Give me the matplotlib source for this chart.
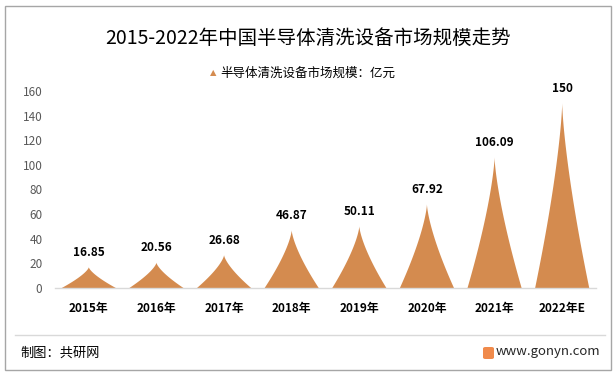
import numpy as np
import matplotlib
matplotlib.use("Agg")
import matplotlib.pyplot as plt
from matplotlib.path import Path
from matplotlib.patches import PathPatch, Rectangle, FancyBboxPatch
from matplotlib.lines import Line2D

plt.rcParams['font.family'] = ['Noto Sans CJK SC', 'DejaVu Sans']

title = "2015-2022年中国半导体清洗设备市场规模走势"
legend_label = "半导体清洗设备市场规模：亿元"
categories = ["2015年", "2016年", "2017年", "2018年", "2019年", "2020年", "2021年", "2022年E"]
values = [16.85, 20.56, 26.68, 46.87, 50.11, 67.92, 106.09, 150]
value_labels = ["16.85", "20.56", "26.68", "46.87", "50.11", "67.92", "106.09", "150"]
yticks = [0, 20, 40, 60, 80, 100, 120, 140, 160]
source_text = "制图：共研网"
site_text = "www.gonyn.com"

bar_color = "#D48B4F"
W, H = 616, 378
fig = plt.figure(figsize=(W / 100, H / 100), dpi=100)

# outer border
fig.patches.append(Rectangle((5 / W, 1 - 370 / H), 606 / W, 364 / H, transform=fig.transFigure,
                             fill=False, edgecolor="#A6A6A6", linewidth=1.0))

ax = fig.add_axes([55 / W, 1 - 288 / H, 541 / W, 197 / H])
ax.set_xlim(-0.5, len(categories) - 0.5)
ax.set_ylim(0, 160)
for s in ["top", "right", "left"]:
    ax.spines[s].set_visible(False)
ax.spines["bottom"].set_color("#D9D9D9")
ax.spines["bottom"].set_linewidth(1.0)
ax.set_yticks(yticks)
ax.set_yticklabels([str(t) for t in yticks], fontsize=8.5, color="#595959")
ax.tick_params(axis="y", length=0, pad=9)
ax.set_xticks(range(len(categories)))
ax.set_xticklabels(categories, fontsize=8.5, fontweight="bold", color="#000000")
ax.tick_params(axis="x", length=0, pad=10)

half = 0.4
hs = np.linspace(0, 1, 80)
for i, v in enumerate(values):
    frac = (1 - hs) ** 1.4
    xs_r = i + half * frac
    xs_l = i - half * frac
    ys = hs * v
    verts = list(zip(xs_l, ys)) + list(zip(xs_r[::-1], ys[::-1]))
    codes = [Path.MOVETO] + [Path.LINETO] * (len(verts) - 1)
    ax.add_patch(PathPatch(Path(verts, codes), facecolor=bar_color, edgecolor="none"))
    ax.annotate(value_labels[i], (i, v), xytext=(0, 6), textcoords="offset points",
                ha="center", va="bottom", fontsize=8.5, fontweight="bold", color="#000000")

fig.text(308 / W, 1 - 38 / H, title, ha="center", va="center", fontsize=14, color="#000000")

# legend
fig.text(213 / W, 1 - 73 / H, "▲", ha="center", va="center", fontsize=6, color=bar_color,
         family=['DejaVu Sans'])
fig.text(220 / W, 1 - 73 / H, legend_label, ha="left", va="center", fontsize=9, color="#000000")

# separator
fig.add_artist(Line2D([15 / W, 605 / W], [1 - 335 / H, 1 - 335 / H], transform=fig.transFigure,
                      color="#D9D9D9", linewidth=1.0))

fig.text(20 / W, 1 - 353 / H, source_text, ha="left", va="center", fontsize=9.5, color="#000000")
fig.patches.append(FancyBboxPatch((483 / W, 1 - 359 / H), 11 / W, 12 / H, transform=fig.transFigure,
                                  boxstyle="round,pad=0,rounding_size=0.004",
                                  facecolor="#F08A4B", edgecolor="none"))
fig.text(600 / W, 1 - 352 / H, site_text, ha="right", va="center", fontsize=9.5, color="#262626")

fig.savefig("out.png", dpi=100)
